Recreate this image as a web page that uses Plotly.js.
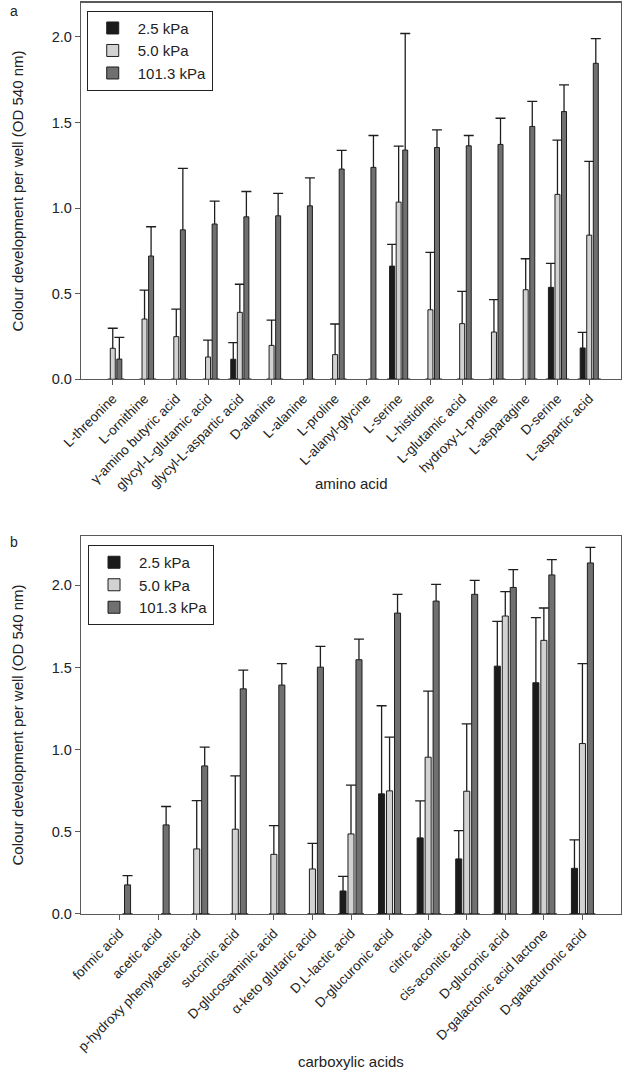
<!DOCTYPE html>
<html>
<head>
<meta charset="utf-8">
<script src="https://cdn.plot.ly/plotly-3.0.1.min.js"></script>
<style>html,body{margin:0;padding:0;background:#fff;}#chart{width:625px;height:1072px;}</style>
</head>
<body>
<div id="chart"></div>
<script>
// ---------- Panel a: amino acids ----------
const aminoAcids = ["L-threonine","L-ornithine","γ-amino butyric acid","glycyl-L-glutamic acid","glycyl-L-aspartic acid","D-alanine","L-alanine","L-proline","L-alanyl-glycine","L-serine","L-histidine","L-glutamic acid","hydroxy-L-proline","L-asparagine","D-serine","L-aspartic acid"];
const amino_2_5   = [null,null,null,null,0.117,null,null,null,null,0.661,null,null,null,null,0.537,0.183];
const amino_2_5e  = [null,null,null,null,0.097,null,null,null,null,0.127,null,null,null,null,0.140,0.091];
const amino_5_0   = [0.181,0.352,0.249,0.130,0.391,0.198,null,0.144,null,1.035,0.406,0.325,0.276,0.523,1.080,0.842];
const amino_5_0e  = [0.117,0.169,0.161,0.099,0.164,0.148,null,0.179,null,0.327,0.335,0.189,0.189,0.181,0.317,0.431];
const amino_101   = [0.118,0.720,0.873,0.907,0.949,0.955,1.013,1.228,1.238,1.339,1.354,1.364,1.372,1.477,1.564,1.846];
const amino_101e  = [0.127,0.171,0.359,0.134,0.148,0.131,0.164,0.109,0.186,0.681,0.103,0.060,0.153,0.146,0.156,0.144];

// ---------- Panel b: carboxylic acids ----------
const carboxylicAcids = ["formic acid","acetic acid","p-hydroxy phenylacetic acid","succinic acid","D-glucosaminic acid","α-keto glutaric acid","D,L-lactic acid","D-glucuronic acid","citric acid","cis-aconitic acid","D-gluconic acid","D-galactonic acid lactone","D-galacturonic acid"];
const carb_2_5    = [null,null,null,null,null,null,0.140,0.731,0.463,0.335,1.508,1.407,0.278];
const carb_2_5e   = [null,null,null,null,null,null,0.089,0.536,0.225,0.172,0.272,0.396,0.173];
const carb_5_0    = [null,null,0.396,0.516,0.363,0.274,0.487,0.749,0.954,0.747,1.813,1.665,1.037];
const carb_5_0e   = [null,null,0.294,0.324,0.175,0.156,0.297,0.327,0.402,0.410,0.148,0.197,0.486];
const carb_101    = [0.177,0.542,0.901,1.370,1.393,1.502,1.547,1.831,1.904,1.945,1.987,2.063,2.136];
const carb_101e   = [0.056,0.112,0.114,0.114,0.131,0.126,0.126,0.114,0.102,0.085,0.108,0.093,0.095];

const seriesNames = ["2.5 kPa","5.0 kPa","101.3 kPa"];
const seriesColors = ["#1b1b1b","#d2d2d2","#707070"];

const FONT = "Arial, 'Liberation Sans', Helvetica, sans-serif";
const yTitle = "Colour development per well (OD 540 nm)";

function buildTraces(cats, vals, errs, xa, ya, legendName) {
  const carriers = [], fills = [];
  vals.forEach((v, i) => {
    // carrier: invisible bar that holds the (upward-only) error bar
    carriers.push({
      type: "bar", x: cats, y: v, xaxis: xa, yaxis: ya,
      offsetgroup: "g" + i, name: seriesNames[i], showlegend: false, hoverinfo: "skip",
      marker: {color: "rgba(0,0,0,0)", line: {width: 0}},
      error_y: {type: "data", symmetric: false, array: errs[i], arrayminus: v,
                color: "#1e1e1e", thickness: 1.3, width: 5}
    });
    fills.push({
      type: "bar", x: cats, y: v, xaxis: xa, yaxis: ya,
      offsetgroup: "g" + i, name: seriesNames[i], legend: legendName,
      marker: {color: seriesColors[i], line: {color: "#1e1e1e", width: 1}}
    });
  });
  return carriers.concat(fills);
}

const data = []
  .concat(buildTraces(aminoAcids, [amino_2_5, amino_5_0, amino_101], [amino_2_5e, amino_5_0e, amino_101e], "x", "y", "legend"))
  .concat(buildTraces(carboxylicAcids, [carb_2_5, carb_5_0, carb_101], [carb_2_5e, carb_5_0e, carb_101e], "x2", "y2", "legend2"));

const axisCommon = {
  showline: true, linecolor: "#5a5a5a", linewidth: 1.2, mirror: true,
  ticks: "outside", ticklen: 5, tickcolor: "#5a5a5a", tickwidth: 1,
  showgrid: false, zeroline: false
};

const legendCommon = {
  bordercolor: "#222", borderwidth: 1, bgcolor: "#fff",
  font: {family: FONT, size: 15, color: "#222"},
  xanchor: "left", yanchor: "top", tracegroupgap: 0, itemwidth: 40
};

const titleFont = {family: FONT, size: 15, color: "#222"};

const layout = {
  width: 625, height: 1072,
  margin: {l: 81, r: 4, t: 0, b: 0},
  paper_bgcolor: "#fff", plot_bgcolor: "#fff",
  font: {family: FONT, color: "#222"},
  barmode: "group", bargap: 0.38, bargroupgap: 0.24,
  xaxis: Object.assign({}, axisCommon, {
    anchor: "y", domain: [0, 1], type: "category", range: [-1, aminoAcids.length],
    tickangle: -45, tickfont: {family: FONT, size: 13.5, color: "#222"}
  }),
  yaxis: Object.assign({}, axisCommon, {
    anchor: "x", domain: [0.6462, 0.9975], range: [0, 2.2], dtick: 0.5, tick0: 0, tickformat: ".1f",
    tickfont: {family: FONT, size: 14.5, color: "#222"},
    title: {text: yTitle, font: titleFont, standoff: 24}
  }),
  xaxis2: Object.assign({}, axisCommon, {
    anchor: "y2", domain: [0, 1], type: "category", range: [-1, carboxylicAcids.length],
    tickangle: -45, tickfont: {family: FONT, size: 13.5, color: "#222"}
  }),
  yaxis2: Object.assign({}, axisCommon, {
    anchor: "x2", domain: [0.1474, 0.5], range: [0, 2.3], dtick: 0.5, tick0: 0, tickformat: ".1f",
    tickfont: {family: FONT, size: 14.5, color: "#222"},
    title: {text: yTitle, font: titleFont, standoff: 24}
  }),
  legend: Object.assign({}, legendCommon, {x: 0.0106, y: 0.990}),
  legend2: Object.assign({}, legendCommon, {x: 0.013, y: 0.4916}),
  annotations: [
    {text: "a", xref: "paper", yref: "paper", x: -0.135, y: 0.999, xanchor: "left", yanchor: "top", showarrow: false, font: {family: FONT, size: 14, color: "#222"}},
    {text: "b", xref: "paper", yref: "paper", x: -0.135, y: 0.5035, xanchor: "left", yanchor: "top", showarrow: false, font: {family: FONT, size: 14, color: "#222"}},
    {text: "amino acid", xref: "paper", yref: "paper", x: 0.5, y: 1 - 483 / 1072, xanchor: "center", yanchor: "middle", showarrow: false, font: titleFont},
    {text: "carboxylic acids", xref: "paper", yref: "paper", x: 0.5, y: 1 - 1061 / 1072, xanchor: "center", yanchor: "middle", showarrow: false, font: titleFont}
  ]
};

Plotly.newPlot("chart", data, layout, {staticPlot: true, displayModeBar: false});
</script>
</body>
</html>
